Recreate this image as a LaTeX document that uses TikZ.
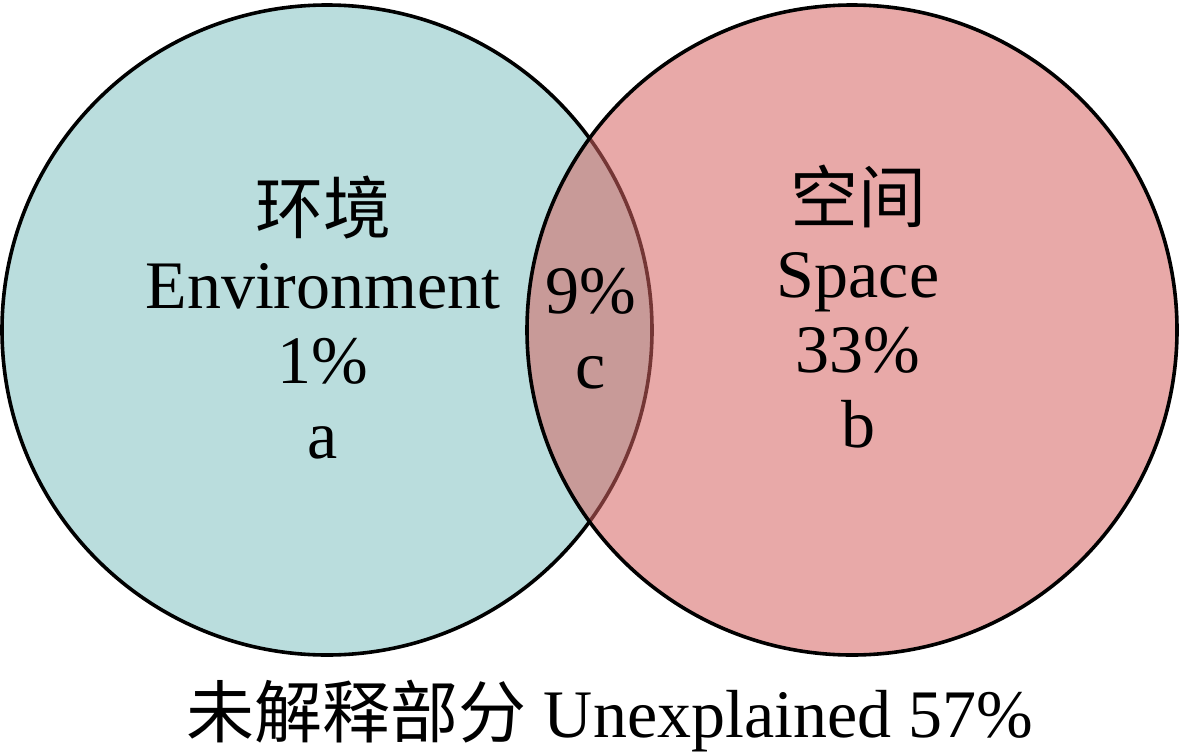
\documentclass[tikz,border=0pt]{standalone}
\usepackage{fontspec}
\setmainfont{Liberation Serif}
\newfontfamily\cjk{Noto Sans CJK SC}
\definecolor{envcolor}{RGB}{186,221,221}
\definecolor{spacecolor}{RGB}{213,99,97}
\begin{document}
\begin{tikzpicture}[x=0.5pt, y=-0.5pt]
        \tikzstyle{ring} = [circle, draw=black, line width=1.8pt, minimum size=325pt, inner sep=0pt]
        \tikzstyle{label} = [align=center, anchor=base, inner sep=0pt, font=\fontsize{34}{37.5}\selectfont]
        \useasboundingbox (0,0) rectangle (1182,755);
        \node[ring, fill=envcolor](Env circle) at (327,330) {};
        \node[ring, fill=spacecolor, fill opacity=0.55](Space circle) at (852,330) {};
        \node[label](Env text) at (323,458) {{\cjk 环境}\\Environment\\1\%\\a};
        \node[label](Space text) at (858,447) {{\cjk 空间}\\Space\\33\%\\b};
        \node[label](Shared text) at (591,388) {9\%\\c};
        \node[label](Rest text) at (610,737) {{\cjk 未解释部分} Unexplained 57\%};
\end{tikzpicture}
\end{document}
